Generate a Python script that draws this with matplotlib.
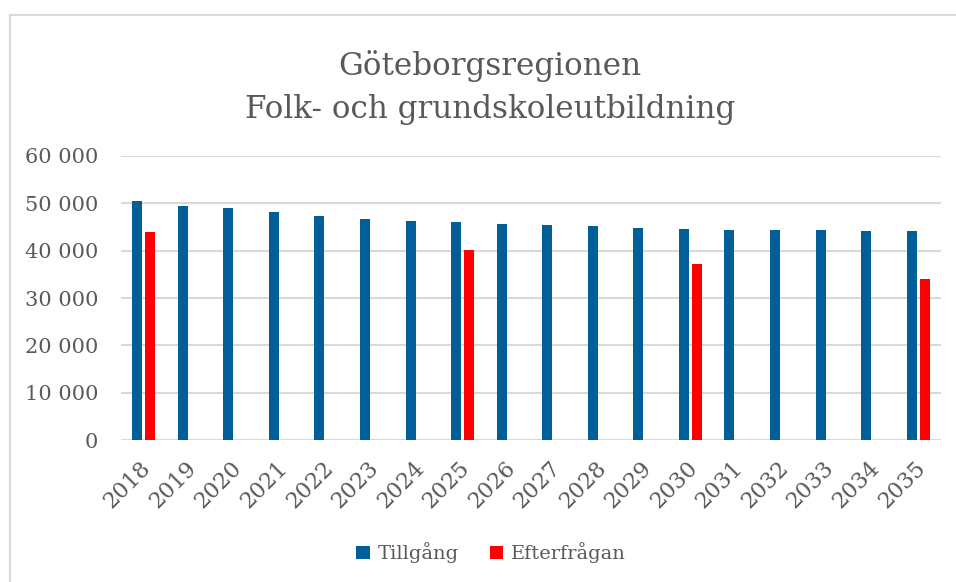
import numpy as np
import matplotlib
matplotlib.use('Agg')
import matplotlib.pyplot as plt
from matplotlib.lines import Line2D
from matplotlib.ticker import FuncFormatter
from matplotlib.transforms import ScaledTranslation

# --- data ---
years = [2018, 2019, 2020, 2021, 2022, 2023, 2024, 2025, 2026,
         2027, 2028, 2029, 2030, 2031, 2032, 2033, 2034, 2035]
tillgang = [50500, 49450, 48900, 48200, 47300, 46700, 46300, 45950, 45550,
            45300, 45100, 44750, 44600, 44400, 44300, 44250, 44200, 44050]
efterfragan_years = [2018, 2025, 2030, 2035]
efterfragan = [43850, 40050, 37150, 33950]

BLUE = '#005F99'
RED = '#FF0000'
GRID = '#D9D9D9'
TEXT = '#595959'

matplotlib.rcParams['font.family'] = 'DejaVu Serif'

fig = plt.figure(figsize=(9.56, 5.82), dpi=100)
ax = fig.add_axes([121 / 956, 1 - 440.3 / 582, 820 / 956, (440.3 - 155.7) / 582])

x = np.arange(len(years))
ex = np.array([years.index(y) for y in efterfragan_years])
w = 0.22
off = 0.143
ax.bar(x - off, tillgang, width=w, color=BLUE, label='Tillgång', zorder=3)
ax.bar(ex + off, efterfragan, width=w, color=RED, label='Efterfrågan', zorder=3)

ax.set_xlim(-0.5, len(years) - 0.5)
ax.set_ylim(0, 60000)
ax.set_yticks(np.arange(0, 60001, 10000))
ax.yaxis.set_major_formatter(FuncFormatter(lambda v, p: f'{int(v):,}'.replace(',', ' ')))
ax.grid(axis='y', color=GRID, linewidth=1.5, zorder=0)
for s in ax.spines.values():
    s.set_visible(False)
ax.tick_params(axis='both', length=0, colors=TEXT)
ax.tick_params(axis='y', pad=16.5, labelsize=15)

ax.set_xticks(x)
ax.set_xticklabels([str(y) for y in years], rotation=45, ha='right', va='top',
                   rotation_mode='anchor', fontsize=16)
ax.tick_params(axis='x', pad=12)
shift = ScaledTranslation(-4 / 100, 0, fig.dpi_scale_trans)
for lab in ax.get_xticklabels():
    lab.set_transform(lab.get_transform() + shift)

fig.text(490 / 956, 1 - 75 / 582, 'Göteborgsregionen', ha='center', va='baseline',
         fontsize=22.3, color=TEXT)
fig.text(490 / 956, 1 - 118 / 582, 'Folk- och grundskoleutbildning', ha='center',
         va='baseline', fontsize=22.3, color=TEXT)

leg = fig.legend(loc='center', bbox_to_anchor=(491 / 956, 1 - 553 / 582), ncol=2,
                 frameon=False, fontsize=14, handlelength=0.7, handleheight=0.7,
                 handletextpad=0.4, columnspacing=1.6)
for t in leg.get_texts():
    t.set_color(TEXT)

# outer chart border (only left and top visible in the reference)
fig.add_artist(Line2D([10 / 956, 10 / 956], [0, 1 - 15 / 582], transform=fig.transFigure,
                      color=GRID, linewidth=1.5))
fig.add_artist(Line2D([10 / 956, 1], [1 - 15 / 582, 1 - 15 / 582], transform=fig.transFigure,
                      color=GRID, linewidth=1.5))

fig.savefig('out.png', dpi=100)
